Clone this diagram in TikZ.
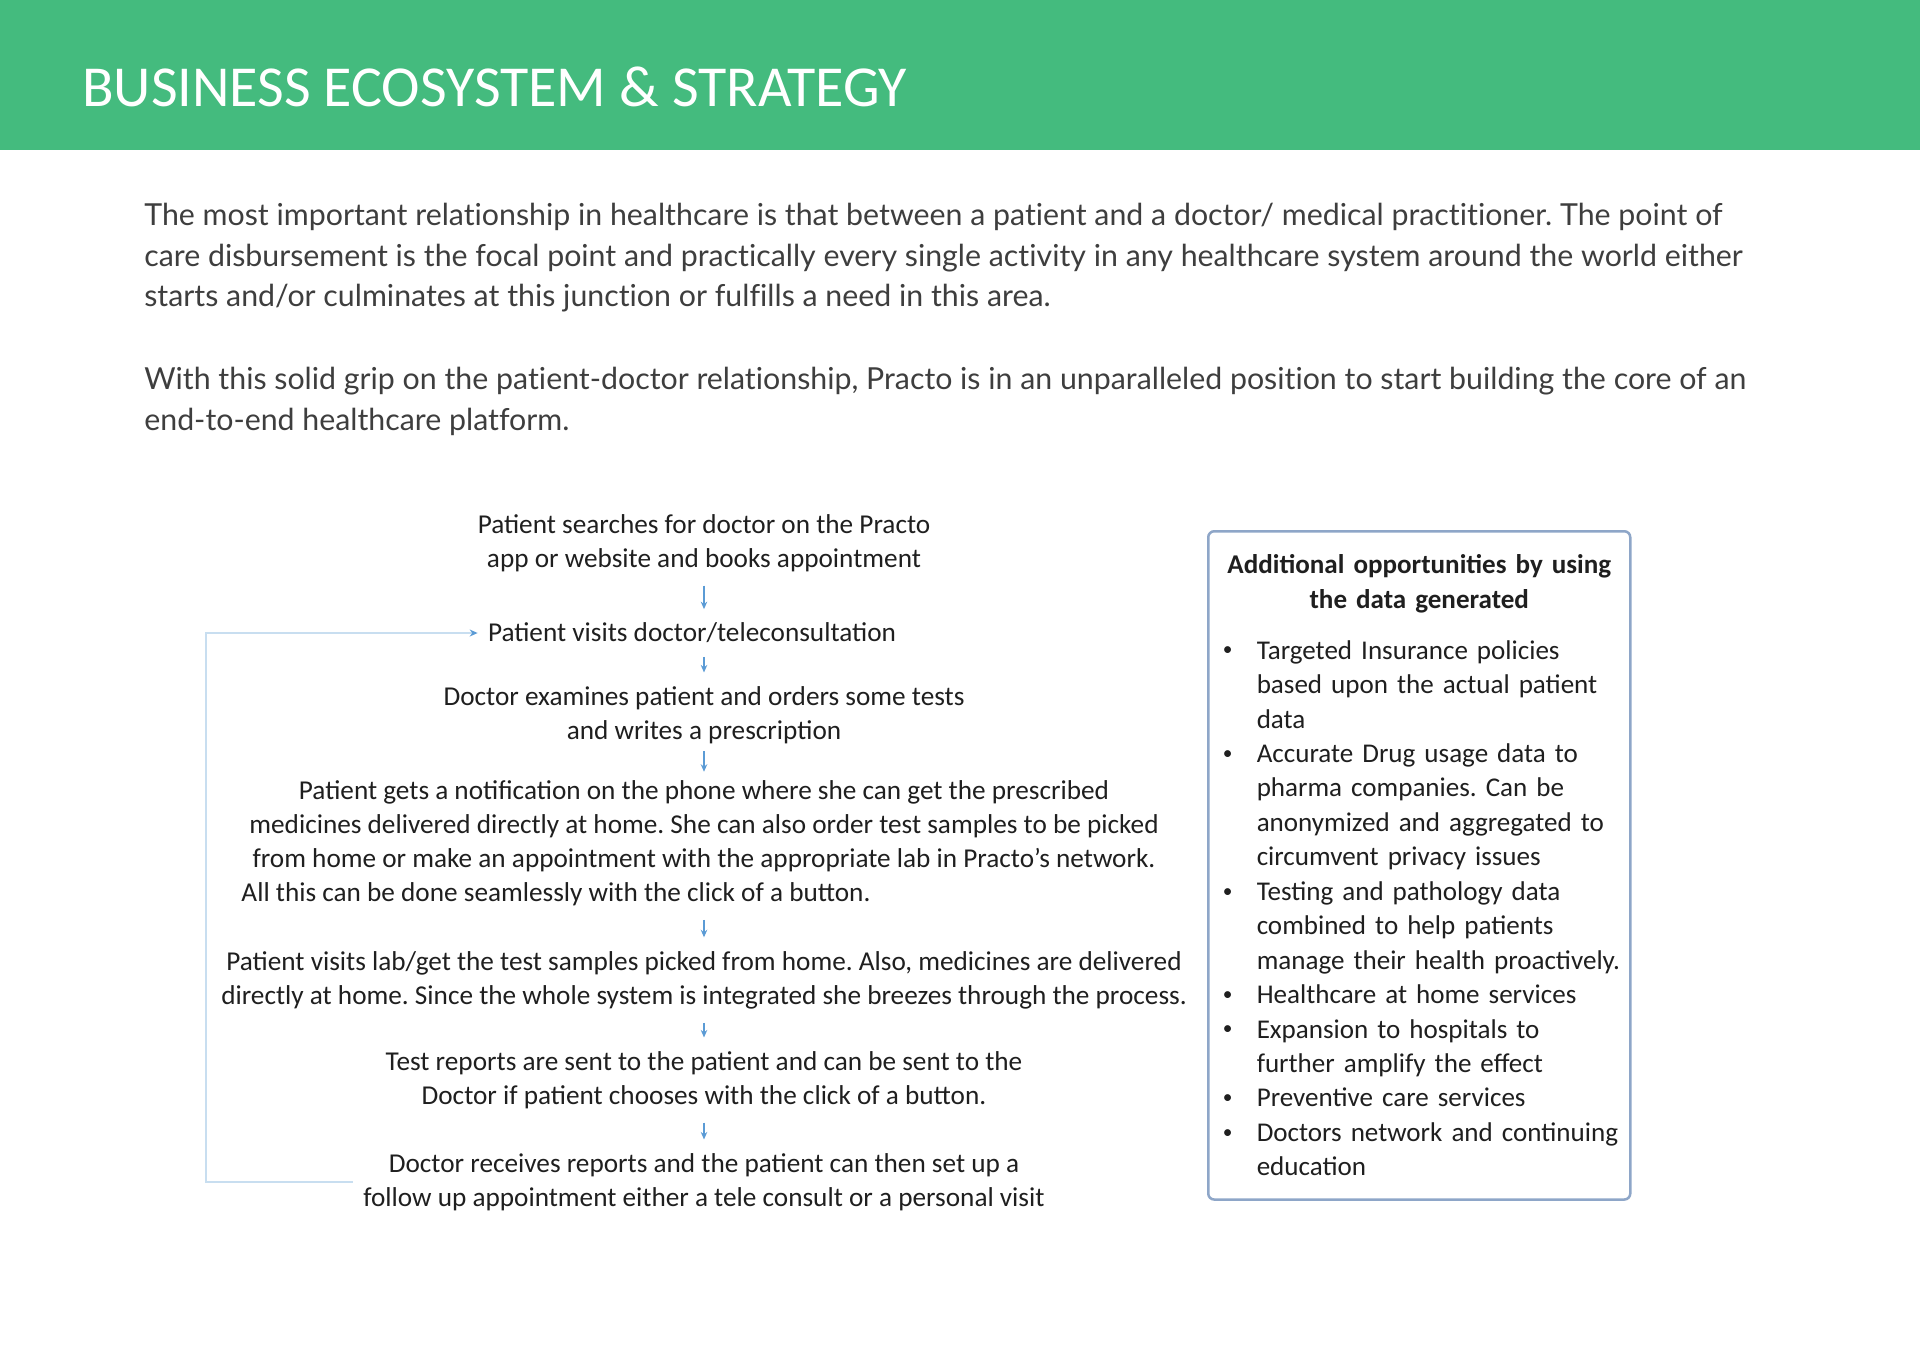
\documentclass[tikz,border=0pt]{standalone}
\usepackage{fontspec}
\setmainfont{Carlito}
\newfontfamily\parafont{Lato}[Ligatures=NoCommon]
\usetikzlibrary{shapes.geometric, arrows.meta}

\definecolor{bannergreen}{RGB}{68,187,126}
\definecolor{arrowblue}{RGB}{91,155,213}
\definecolor{loopblue}{RGB}{200,222,240}
\definecolor{boxedge}{RGB}{142,166,200}
\definecolor{bodygray}{RGB}{62,62,62}

\newcommand{\oppitem}[1]{\par\noindent\hangindent=8.4mm\hangafter=1%
    \makebox[8.4mm][l]{\hspace{1.6mm}\raisebox{0.25ex}{\fontsize{11}{11}\selectfont\textbullet}}#1}

\tikzstyle{flowtext} = [
    align=center,
    inner sep=2mm,
    text=black!88,
    font=\fontsize{15.5}{19.45}\selectfont
]
\tikzstyle{oppbox} = [
    rectangle,
    rounded corners=1.2mm,
    draw=boxedge,
    line width=0.5mm,
    text width=81.8mm,
    inner xsep=1.3mm,
    inner ysep=4.7mm,
    anchor=north west,
    text=black!88,
    font=\fontsize{15.4}{19.6}\selectfont
]
\tikzstyle{parablock} = [
    anchor=north west,
    align=left,
    inner sep=0pt,
    text=bodygray,
    font=\parafont\fontsize{17.25}{23.1}\selectfont
]
\tikzstyle{arrow} = [draw=arrowblue, line width=0.25mm, shorten <=0.7mm, shorten >=0.7mm,
    -{Stealth[length=1.5mm,width=1.3mm]}]
\tikzstyle{loopline} = [draw=loopblue, line width=0.45mm,
    -{Stealth[length=1.6mm,width=1.4mm,color=arrowblue]}]

\begin{document}
\frenchspacing
\begin{tikzpicture}[x=0.2mm, y=-0.2mm, node distance=18mm]

\useasboundingbox (0,0) rectangle (1920,1358);
\fill[white] (0,0) rectangle (1920,1358);

% header band
\fill[bannergreen] (0,0) rectangle (1920,150);
\node (title) [anchor=base west, inner sep=0pt, text=white,
    font=\fontsize{33}{40}\selectfont] at (82,106)
{BUSINESS ECOSYSTEM \& STRATEGY};

\node (para1) [parablock] at (144,203)
{The most important relationship in healthcare is that between a patient and a doctor/ medical practitioner. The point of\\
care disbursement is the focal point and practically every single activity in any healthcare system around the world either\\
starts and/or culminates at this junction or fulfills a need in this area.};

\node (para2) [parablock] at (144,367)
{With this solid grip on the patient-doctor relationship, Practo is in an unparalleled position to start building the core of an\\
end-to-end healthcare platform.};

% patient journey
\node (search) [flowtext] at (704,543)
{Patient searches for doctor on the Practo\\app or website and books appointment};

\node (visit) [flowtext, below of=search, xshift=-2.4mm]
{Patient visits doctor/teleconsultation};

\node (examine) [flowtext, below of=visit, xshift=2.4mm, node distance=16.4mm]
{Doctor examines patient and orders some tests\\and writes a prescription};

\node (notify) [flowtext, below of=examine, node distance=25.6mm]
{Patient gets a notification on the phone where she can get the prescribed\\
medicines delivered directly at home. She can also order test samples to be picked\\
from home or make an appointment with the appropriate lab in Practo’s network.\\
\makebox[185mm][l]{All this can be done seamlessly with the click of a button.}};

\node (labvisit) [flowtext, below of=notify, node distance=27.4mm]
{Patient visits lab/get the test samples picked from home. Also, medicines are delivered\\
directly at home. Since the whole system is integrated she breezes through the process.};

\node (reports) [flowtext, below of=labvisit, node distance=20mm]
{Test reports are sent to the patient and can be sent to the\\
Doctor if patient chooses with the click of a button.};

\node (followup) [flowtext, below of=reports, node distance=20.4mm]
{Doctor receives reports and the patient can then set up a\\
follow up appointment either a tele consult or a personal visit};

\draw [arrow] (search) -- (search |- visit.north);
\draw [arrow] (visit.south -| examine) -- (examine);
\draw [arrow, shorten <=-0.6mm, shorten >=-0.4mm] (examine) -- (notify);
\draw [arrow] (notify) -- (labvisit);
\draw [arrow] (labvisit) -- (reports);
\draw [arrow] (reports) -- (followup);

\coordinate (loopleft) at (206,0);
\draw [loopline] (followup.west) -- (followup.west -| loopleft) |- (visit.west);

% opportunities box
\node (opps) [oppbox] at (1207,530)
{{\centering\bfseries Additional opportunities by using\\the data generated\par}
\vspace{3.3mm}
\oppitem{Targeted Insurance policies\newline based upon the actual patient\newline data}
\oppitem{Accurate Drug usage data to\newline pharma companies. Can be\newline anonymized and aggregated to\newline circumvent privacy issues}
\oppitem{Testing and pathology data\newline combined to help patients\newline manage their health proactively.}
\oppitem{Healthcare at home services}
\oppitem{Expansion to hospitals to\newline further amplify the effect}
\oppitem{Preventive care services}
\oppitem{Doctors network and continuing\newline education}\par};

\end{tikzpicture}
\end{document}
